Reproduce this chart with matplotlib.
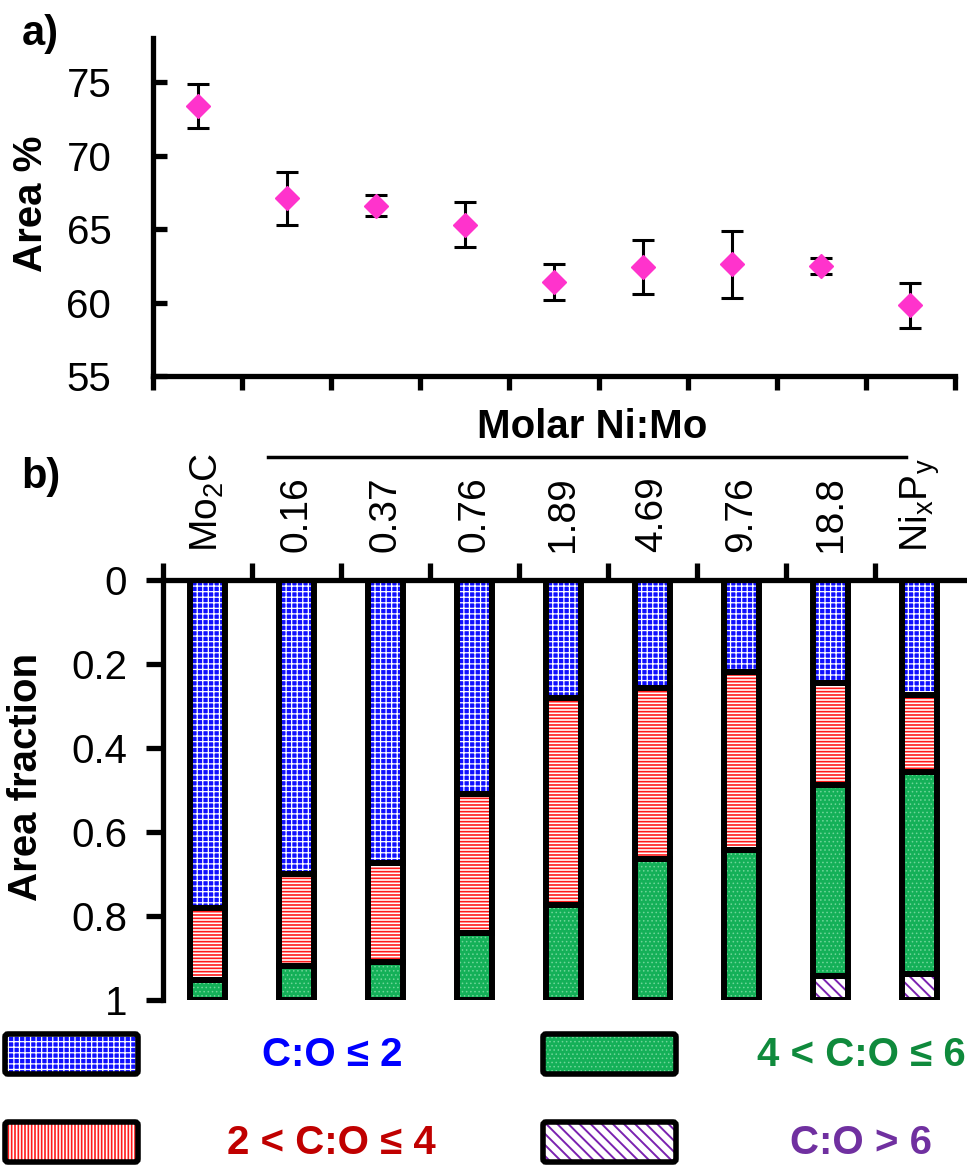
import matplotlib
matplotlib.use('Agg')
import matplotlib.pyplot as plt
from matplotlib.patches import FancyBboxPatch
from matplotlib.lines import Line2D
import numpy as np

plt.rcParams['font.family'] = ['Liberation Sans', 'DejaVu Sans']
plt.rcParams['mathtext.default'] = 'regular'

# panel a: area % with error bars
area_pct = [73.4, 67.1, 66.6, 65.3, 61.4, 62.4, 62.6, 62.5, 59.8]
area_err = [1.5, 1.8, 0.7, 1.55, 1.2, 1.85, 2.3, 0.55, 1.5]

# panel b: stacked area fractions
samples = ['Mo$_2$C', '0.16', '0.37', '0.76', '1.89', '4.69', '9.76', '18.8', 'Ni$_x$P$_y$']
frac_le2 = [0.780, 0.700, 0.673, 0.510, 0.282, 0.256, 0.220, 0.246, 0.274]
frac_2to4 = [0.172, 0.220, 0.236, 0.330, 0.492, 0.408, 0.424, 0.243, 0.184]
frac_4to6 = [0.048, 0.080, 0.091, 0.160, 0.226, 0.336, 0.356, 0.455, 0.479]
frac_gt6 = [0.0, 0.0, 0.0, 0.0, 0.0, 0.0, 0.0, 0.056, 0.063]

series_labels = ['C:O ≤ 2', '2 < C:O ≤ 4', '4 < C:O ≤ 6', 'C:O > 6']
# (face, hatch colour, hatch, legend hatch, hatch lw, text colour)
styles = [
    ('#1010ff', 'white', '+++', '+++', 0.9, '#0000ff'),
    ('white', '#ff1a1a', '-----', '|||||', 1.2, '#c00000'),
    ('#14b058', '#6fd699', '....', '....', 0.6, '#0f8a3c'),
    ('white', '#7a22b0', '\\\\\\', '\\\\\\', 1.4, '#7030a0'),
]

W, H = 967, 1165
fig = plt.figure(figsize=(W / 100, H / 100), dpi=100)

# ---------------- panel a ----------------
ax_a = fig.add_axes([153 / W, 1 - 376 / H, (955 - 153) / W, (376 - 38) / H])
x = np.arange(len(area_pct)) + 0.5
ax_a.errorbar(x, area_pct, yerr=area_err, fmt='D', ms=12, mfc='#ff33cc', mec='#ff33cc',
              ecolor='black', elinewidth=2.2, capsize=8, capthick=2.2, zorder=3)
ax_a.set_xlim(0, 9)
ax_a.set_ylim(55, 78)
ax_a.set_xticks(range(10))
ax_a.set_xticklabels([])
ax_a.set_yticks([55, 60, 65, 70, 75])
for s in ['top', 'right']:
    ax_a.spines[s].set_visible(False)
for s in ['left', 'bottom']:
    ax_a.spines[s].set_linewidth(3.8)
ax_a.tick_params(axis='x', direction='out', length=10, width=3.8)
ax_a.tick_params(axis='y', direction='in', length=10, width=3.8, labelsize=29, pad=30)
ax_a.set_ylabel('Area %', fontsize=29, fontweight='bold')
ax_a.yaxis.set_label_coords(-0.128, 0.51)

# ---------------- panel b ----------------
ax_b = fig.add_axes([163 / W, 1 - 1000 / H, (W - 163) / W, 420 / H])
xb = np.arange(len(samples))
bottom = np.zeros(len(samples))
for vals, (fc, hc, hatch, _, hlw, _) in zip([frac_le2, frac_2to4, frac_4to6, frac_gt6], styles):
    vals = np.array(vals)
    m = vals > 0
    with plt.rc_context({'hatch.linewidth': hlw}):
        ax_b.bar(xb[m], vals[m], bottom=bottom[m], width=0.39, color=fc, hatch=hatch,
                 edgecolor=hc, linewidth=0, zorder=2)
    ax_b.bar(xb[m], vals[m], bottom=bottom[m], width=0.39, fill=False,
             edgecolor='black', linewidth=4.3, zorder=3)
    bottom += vals

ax_b.set_xlim(-0.5, -0.5 + (W - 163) / 89.0)
ax_b.set_ylim(1, 0)
ax_b.xaxis.tick_top()
ax_b.set_xticks(np.arange(-0.5, 8, 1))
ax_b.set_xticklabels([])
ax_b.set_yticks([0, 0.2, 0.4, 0.6, 0.8, 1])
ax_b.set_yticklabels(['0', '0.2', '0.4', '0.6', '0.8', '1'])
for s in ['bottom', 'right']:
    ax_b.spines[s].set_visible(False)
for s in ['left', 'top']:
    ax_b.spines[s].set_linewidth(3.8)
ax_b.tick_params(axis='x', direction='out', length=12, width=3.8)
ax_b.tick_params(axis='y', direction='out', length=12, width=3.8, labelsize=29, pad=14)
ax_b.set_ylabel('Area fraction', fontsize=29, fontweight='bold')
ax_b.yaxis.set_label_coords(-0.147, 0.53)

for i, s in enumerate(samples):
    ax_b.annotate(s, xy=(i, 1), xycoords=ax_b.get_xaxis_transform(), xytext=(0, 20),
                  textcoords='offset points', rotation=90, ha='center', va='bottom',
                  fontsize=28, annotation_clip=False)

fig.text(592 / W, 1 - 427 / H, 'Molar Ni:Mo', ha='center', va='center',
         fontsize=29, fontweight='bold')
fig.add_artist(Line2D([268 / W, 906 / W], [1 - 457 / H] * 2, color='black', lw=2.5))

fig.text(22 / W, 1 - 45 / H, 'a)', fontsize=30, fontweight='bold', va='baseline')
fig.text(21 / W, 1 - 488 / H, 'b)', fontsize=30, fontweight='bold', va='baseline')

# ---------------- legend ----------------
lax = fig.add_axes([0, 0, 1, 1], zorder=-1)
lax.set_xlim(0, W)
lax.set_ylim(H, 0)
lax.axis('off')
boxes = [(5, 1034), (5, 1122), (543, 1034), (543, 1122)]
text_pos = [(332, 'center'), (331, 'center'), (966, 'right'), (861, 'center')]
text_y = [1055, 1143, 1055, 1143]
for k in range(4):
    fc, hc, _, lhatch, hlw, tc = styles[k]
    bx, by = boxes[k]
    with plt.rc_context({'hatch.linewidth': hlw}):
        lax.add_patch(FancyBboxPatch((bx, by), 133, 40, boxstyle='round,pad=0,rounding_size=3',
                                     facecolor=fc, edgecolor=hc, hatch=lhatch, linewidth=0))
    lax.add_patch(FancyBboxPatch((bx, by), 133, 40, boxstyle='round,pad=0,rounding_size=3',
                                 fill=False, edgecolor='black', linewidth=4))
    tx, tha = text_pos[k]
    lax.text(tx, text_y[k], series_labels[k], color=tc, fontsize=29, fontweight='bold',
             ha=tha, va='center')

fig.savefig('out.png', dpi=100)
